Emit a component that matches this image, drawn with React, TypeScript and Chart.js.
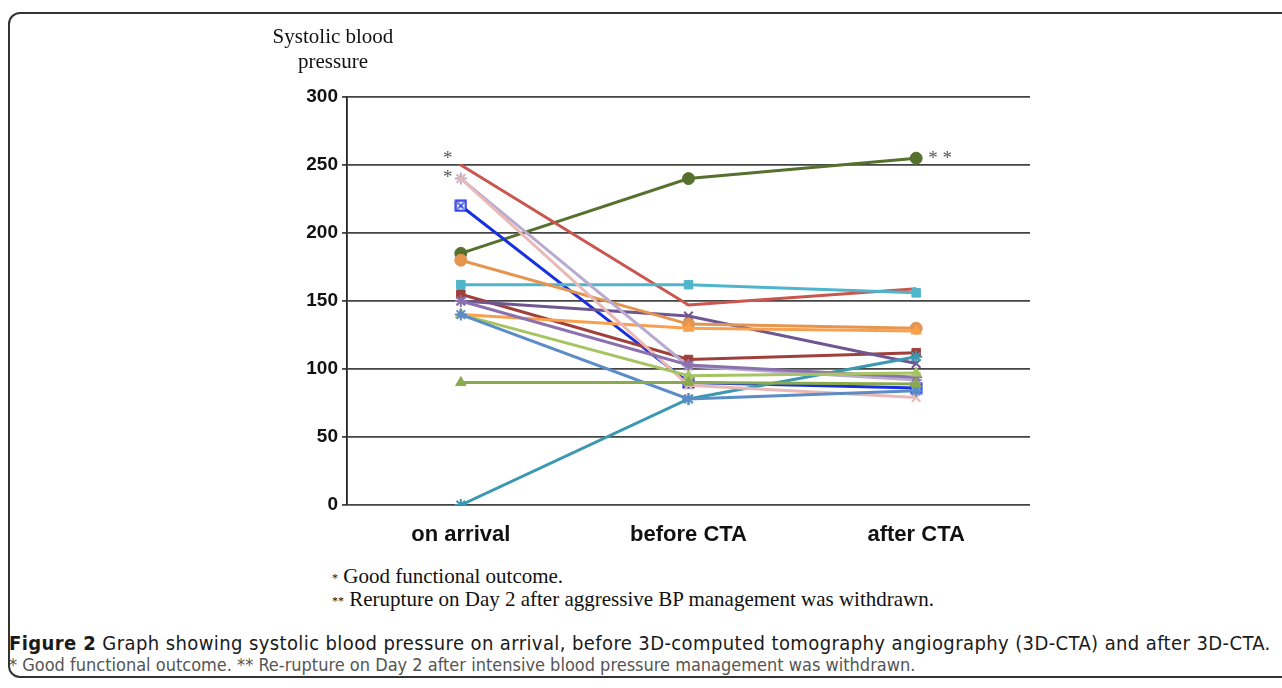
import React, { useEffect, useRef } from "react";
import { Chart, registerables } from "chart.js";

Chart.register(...registerables);

const categories = ["on arrival", "before CTA", "after CTA"];
const yTicks = [0, 50, 100, 150, 200, 250, 300];

const redSeries = [250, 147, 159];
const lavenderSeries = [240, 102, 92];
const pinkSeries = [240, 88, 79];
const blueSeries = [220, 90, 86];
const darkOliveSeries = [185, 240, 255];
const tanSeries = [180, 133, 130];
const cyanSeries = [162, 162, 156];
const darkRedSeries = [155, 107, 112];
const darkPurpleSeries = [150, 139, 104];
const purpleSeries = [150, 103, 94];
const orangeSeries = [140, 130, 128];
const lightGreenSeries = [140, 95, 97];
const steelBlueSeries = [140, 78, 84];
const oliveSeries = [90, 90, 89];
const tealSeries = [0, 78, 109];

const seriesList = [
  { data: oliveSeries, color: "#8BAA4E", style: "triangle" },
  { data: steelBlueSeries, color: "#5B8CC6", style: "star" },
  { data: lightGreenSeries, color: "#A6C464", style: "triangle" },
  { data: purpleSeries, color: "#8B72AE", style: "star" },
  { data: pinkSeries, color: "#E8B9B6", style: "crossRot" },
  { data: lavenderSeries, color: "#B9ABCF", style: "star" },
  { data: tealSeries, color: "#3A98B0", style: "star" },
  { data: orangeSeries, color: "#F9A04F", style: "triangle" },
  { data: tanSeries, color: "#E49550", style: "circle" },
  { data: darkPurpleSeries, color: "#6E5790", style: "crossRot" },
  { data: darkRedSeries, color: "#A0403C", style: "rect" },
  { data: cyanSeries, color: "#4FB5CC", style: "rect" },
  { data: redSeries, color: "#C9564F", style: "line" },
  { data: blueSeries, color: "#1830E0", style: "boxX" },
  { data: darkOliveSeries, color: "#56702E", style: "circle" },
];

const annotations = [
  { cat: 0, value: 250, text: "*", dx: -13, dy: -6 },
  { cat: 0, value: 240, text: "*", dx: -13, dy: -1 },
  { cat: 2, value: 255, text: "* *", dx: 24, dy: 1 },
];

function makeBoxX(color: string) {
  const c = document.createElement("canvas");
  c.width = 13;
  c.height = 13;
  const g = c.getContext("2d")!;
  g.fillStyle = "#fff";
  g.fillRect(1, 1, 11, 11);
  g.strokeStyle = color;
  g.lineWidth = 2;
  g.strokeRect(1.5, 1.5, 10, 10);
  g.beginPath();
  g.moveTo(3.5, 3.5);
  g.lineTo(9.5, 9.5);
  g.moveTo(9.5, 3.5);
  g.lineTo(3.5, 9.5);
  g.lineWidth = 1.5;
  g.stroke();
  return c;
}

const starPlugin = {
  id: "stars",
  afterDatasetsDraw(chart: any) {
    const ctx = chart.ctx;
    const xs = chart.scales.x;
    const ys = chart.scales.y;
    ctx.save();
    ctx.fillStyle = "#555";
    ctx.font = "19px 'Liberation Serif', serif";
    ctx.textAlign = "center";
    ctx.textBaseline = "middle";
    annotations.forEach((a) => {
      ctx.fillText(a.text, xs.getPixelForValue(a.cat) + a.dx, ys.getPixelForValue(a.value) + a.dy);
    });
    ctx.restore();
  },
};

export default function App() {
  const ref = useRef<HTMLCanvasElement>(null);
  useEffect(() => {
    if (!ref.current) return;
    const chart = new Chart(ref.current, {
      type: "line",
      data: {
        labels: categories,
        datasets: seriesList.map((s) => ({
          data: s.data,
          borderColor: s.color,
          backgroundColor: s.color,
          pointStyle: (s.style === "boxX" ? makeBoxX(s.color) : s.style) as any,
          pointRadius: s.style === "line" ? 3 : 6,
          pointBorderWidth: s.style === "star" || s.style === "crossRot" ? 2 : 1,
          borderWidth: 3,
          tension: 0,
        })),
      },
      options: {
        animation: false,
        responsive: false,
        maintainAspectRatio: false,
        layout: { padding: { left: 287, right: 252, top: 97, bottom: 0 } },
        plugins: { legend: { display: false }, tooltip: { enabled: false } },
        scales: {
          x: {
            offset: true,
            grid: { display: false, drawTicks: false },
            border: { display: false },
            ticks: {
              color: "#111",
              font: { family: "'Liberation Sans', Arial, sans-serif", size: 22, weight: "bold" },
              padding: 17,
            },
            afterFit: (s: any) => {
              s.height = 55;
            },
          },
          y: {
            min: 0,
            max: 300,
            afterBuildTicks: (s: any) => {
              s.ticks = yTicks.map((v) => ({ value: v }));
            },
            grid: { color: "#444", lineWidth: 1.8, tickLength: 5, tickColor: "#444" },
            border: { display: true, color: "#222", width: 1.8 },
            ticks: {
              color: "#111",
              font: { family: "'Liberation Sans', Arial, sans-serif", size: 19, weight: "bold" },
              padding: 4,
            },
            afterFit: (s: any) => {
              s.width = 60;
            },
          },
        },
      },
      plugins: [starPlugin],
    });
    return () => chart.destroy();
  }, []);

  return (
    <div style={{ position: "absolute", left: 0, top: 0, width: 1282, height: 688, background: "#fff", overflow: "hidden" }}>
      <div
        style={{
          position: "absolute",
          left: 8,
          top: 12,
          width: 1300,
          height: 666,
          border: "2px solid #333",
          borderRadius: 12,
          boxSizing: "border-box",
        }}
      />
      <canvas ref={ref} width={1282} height={560} style={{ position: "absolute", left: 0, top: 0, width: 1282, height: 560 }} />
      <div
        style={{
          position: "absolute",
          left: 263,
          top: 24,
          width: 140,
          textAlign: "center",
          fontFamily: "'Liberation Serif', serif",
          fontSize: 21,
          lineHeight: "25px",
          color: "#111",
        }}
      >
        Systolic blood
        <br />
        pressure
      </div>
      <div
        style={{
          position: "absolute",
          left: 332,
          top: 566,
          fontFamily: "'Liberation Serif', serif",
          fontSize: 21,
          lineHeight: "21px",
          color: "#111",
          whiteSpace: "nowrap",
        }}
      >
        <div>
          <span style={{ fontSize: 12, verticalAlign: "middle", color: "#111" }}>*</span> Good functional outcome.
        </div>
        <div>
          <span style={{ fontSize: 12, verticalAlign: "middle", color: "#111" }}>**</span> Rerupture on Day 2 after aggressive BP management was withdrawn.
        </div>
      </div>
      <div
        style={{
          position: "absolute",
          left: 9,
          top: 632,
          fontFamily: "'Liberation Sans Narrow', 'DejaVu Sans Condensed', sans-serif",
          lineHeight: "22px",
          whiteSpace: "nowrap",
        }}
      >
        <div style={{ color: "#1a1a1a", fontSize: 20, letterSpacing: "0.4px" }}>
          <b>Figure 2</b> Graph showing systolic blood pressure on arrival, before 3D-computed tomography angiography (3D-CTA) and after 3D-CTA.
        </div>
        <div style={{ color: "#555", fontSize: 18 }}>
          * Good functional outcome. ** Re-rupture on Day 2 after intensive blood pressure management was withdrawn.
        </div>
      </div>
    </div>
  );
}
